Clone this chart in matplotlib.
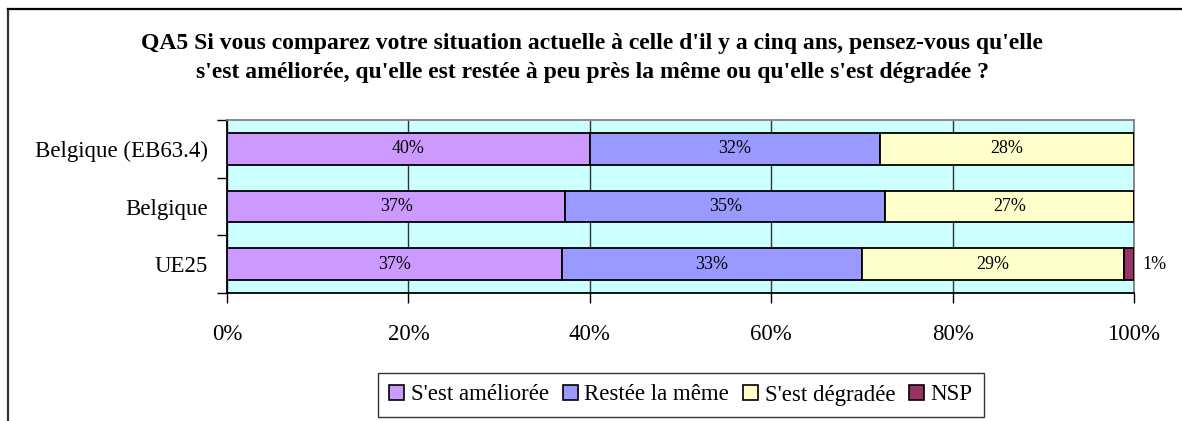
import matplotlib.pyplot as plt
import numpy as np
from matplotlib.lines import Line2D
from matplotlib.patches import Patch

plt.rcParams['font.family'] = ['Liberation Serif', 'DejaVu Serif']

categories = ['Belgique (EB63.4)', 'Belgique', 'UE25']
series = ["S'est améliorée", 'Restée la même', "S'est dégradée", 'NSP']
ameliore = [40.0, 37.3, 36.9]
meme = [32.0, 35.3, 33.1]
degrade = [28.0, 27.4, 28.9]
nsp = [0.0, 0.0, 1.1]
shown = [['40%', '32%', '28%', ''], ['37%', '35%', '27%', ''], ['37%', '33%', '29%', '1%']]
colors = ['#CC99FF', '#9999FF', '#FFFFCC', '#993366']
xticks = [0, 20, 40, 60, 80, 100]

title = ("QA5 Si vous comparez votre situation actuelle à celle d'il y a cinq ans, pensez-vous qu'elle\n"
         "s'est améliorée, qu'elle est restée à peu près la même ou qu'elle s'est dégradée ?")

fig = plt.figure(figsize=(11.82, 4.21), dpi=100)
ax = fig.add_axes([227 / 1182, 1 - 293 / 421, 907 / 1182, 173 / 421])
ax.set_facecolor('#CCFFFF')

y = np.arange(len(categories))[::-1]
data = [ameliore, meme, degrade, nsp]
left = np.zeros(len(categories))
for k, vals in enumerate(data):
    vals = np.array(vals)
    ax.barh(y, vals, left=left, height=0.55, color=colors[k], edgecolor='black',
            linewidth=1.3, zorder=3)
    for i in range(len(categories)):
        txt = shown[i][k]
        if not txt:
            continue
        if k == 3:
            ax.text(left[i] + vals[i] + 0.9, y[i], txt, ha='left', va='center',
                    fontsize=13, zorder=4)
        else:
            ax.text(left[i] + vals[i] / 2, y[i], txt, ha='center', va='center',
                    fontsize=13, zorder=4)
    left = left + vals

ax.set_xlim(0, 100)
ax.set_ylim(-0.5, 2.5)
ax.set_xticks(xticks)
ax.set_xticklabels([f'{t}%' for t in xticks], fontsize=16.5)
ax.set_yticks([-0.5, 0.5, 1.5, 2.5])
ax.set_yticklabels([])
ax.set_yticks(y, minor=True)
ax.set_yticklabels(categories, minor=True, fontsize=16.5)
ax.tick_params(axis='y', which='minor', length=0, pad=14)
ax.tick_params(axis='y', which='major', length=7, width=1)
ax.tick_params(axis='x', length=7, width=1, pad=15)
ax.xaxis.grid(True, color='#333333', linewidth=1, zorder=1)
ax.set_axisbelow(True)
for s in ax.spines.values():
    s.set_color('#808080')
    s.set_linewidth(1.3)
ax.spines['left'].set_color('black')
ax.spines['bottom'].set_color('black')

fig.text(592 / 1182, 1 - 58 / 421, title, ha='center', va='center', fontsize=17,
         fontweight='bold', linespacing=1.5)

handles = [Patch(facecolor=c, edgecolor='black', linewidth=1.2) for c in colors]
leg = fig.legend(handles, series, loc='center', bbox_to_anchor=(681 / 1182, 1 - 395 / 421),
                 ncol=4, fontsize=16.5, frameon=True, fancybox=False, edgecolor='black',
                 handlelength=0.65, handleheight=0.65, handletextpad=0.3, columnspacing=0.6,
                 borderpad=0.5, borderaxespad=0)
leg.get_frame().set_linewidth(1)

fig.add_artist(Line2D([8 / 1182, 8 / 1182], [0, 1 - 9 / 421], color='#333333', linewidth=1.6))
fig.add_artist(Line2D([8 / 1182, 1], [1 - 9 / 421, 1 - 9 / 421], color='black', linewidth=1.6))

fig.savefig('out.png', dpi=100)
